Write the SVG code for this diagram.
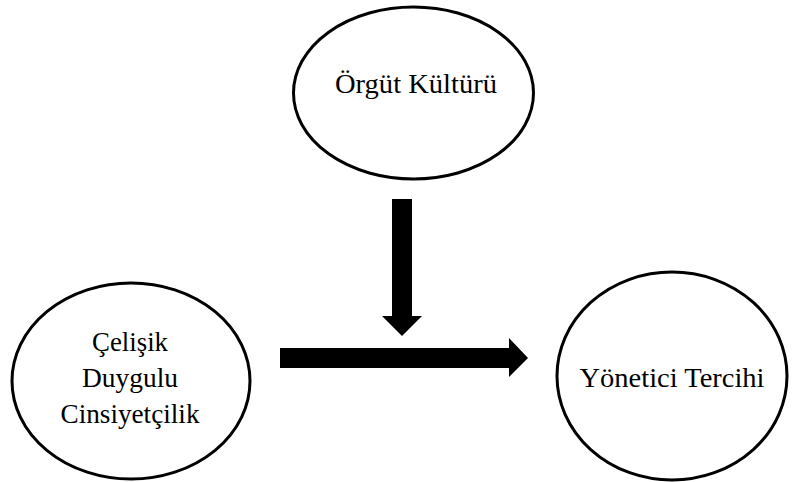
<svg xmlns="http://www.w3.org/2000/svg" width="794" height="482" viewBox="0 0 794 482">
<style>
.node{fill:#fff;stroke:#000;stroke-width:3}
.lbl{font-family:"Liberation Serif","Times New Roman",serif;font-size:27px;fill:#000;text-anchor:middle}
.arr{fill:#000;stroke:none}
</style>
<rect width="794" height="482" fill="#fff"/>
<g id="orgut-kulturu">
<ellipse class="node" cx="413.5" cy="93" rx="120" ry="86"/>
<text class="lbl" x="416" y="93" textLength="162" lengthAdjust="spacingAndGlyphs">Örgüt Kültürü</text>
</g>
<g id="celisik-duygulu-cinsiyetcilik">
<ellipse class="node" cx="131" cy="381" rx="119" ry="98"/>
<text class="lbl" x="130" y="351" textLength="76" lengthAdjust="spacingAndGlyphs">Çelişik</text>
<text class="lbl" x="130" y="387" textLength="96" lengthAdjust="spacingAndGlyphs">Duygulu</text>
<text class="lbl" x="130" y="423" textLength="139" lengthAdjust="spacingAndGlyphs">Cinsiyetçilik</text>
</g>
<g id="yonetici-tercihi">
<ellipse class="node" cx="672" cy="376" rx="115" ry="104"/>
<text class="lbl" x="672" y="387" textLength="185" lengthAdjust="spacingAndGlyphs">Yönetici Tercihi</text>
</g>
<g id="connectors">
<polygon class="arr" points="392,199 412,199 412,316 422,316 402,336 382,316 392,316"/>
<polygon class="arr" points="280,348 509,348 509,338 528,358 509,377 509,368 280,368"/>
</g>
</svg>
